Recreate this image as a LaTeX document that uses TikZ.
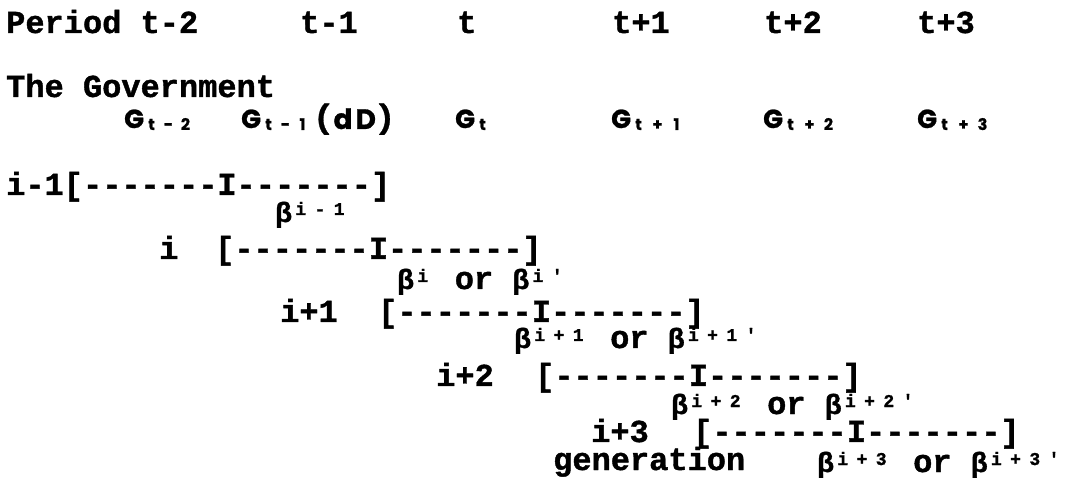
\documentclass[tikz,border=0pt]{standalone}
\usepackage{fontspec}
\setmonofont{Liberation Mono}[BoldFeatures={FakeBold=1.2}]
\newfontfamily\gfont{Poppins}[BoldFeatures={FakeBold=1}]
% beta with its superscript cells; the whole keeps the monospace grid
\newcommand\bsup[1]{\makebox[16pt][l]{\fontsize{28}{28}\selectfont β}#1\hspace{3.2pt}}
% superscript glyphs, each in a monospace cell
\newcommand\supc[1]{\makebox[19.2pt][c]{\raisebox{7pt}{\fontsize{18}{18}\selectfont\addfontfeature{FakeBold=2}#1}}}
% subscript glyphs of the G row
\newcommand\gc[1]{\makebox[17pt][c]{\raisebox{-2pt}{\fontsize{16}{16}\selectfont #1}}}
\tikzset{
  txt/.style={anchor=base west, inner sep=0pt, font=\ttfamily\bfseries\fontsize{32}{32}\selectfont},
  bar/.style={txt, text depth=3pt},
  btxt/.style={txt, text height=17pt},
  gtxt/.style={anchor=base west, inner sep=0pt, font=\gfont\bfseries\fontsize{26}{26}\selectfont},
}
\begin{document}
\begin{tikzpicture}[x=1pt,y=-1pt]
\useasboundingbox (0,0) rectangle (1069,486);
% periods
\node[txt] (p0) at (6,33) {Period t-2};
\node[txt] (p1) at (300,33) {t-1};
\node[txt] (p2) at (457,33) {t};
\node[txt] (p3) at (612,33) {t+1};
\node[txt] (p4) at (764,33) {t+2};
\node[txt] (p5) at (917,33) {t+3};
% government
\node[txt] (gov) at (6,97) {The Government};
\node[gtxt] (g0) at (124,128) {G\hspace{-1pt}\gc{t}\gc{-}\gc{2}};
\node[gtxt] (g1) at (241,128) {G\hspace{-1pt}\gc{t}\gc{-}\gc{1}};
\node[gtxt, font=\gfont\bfseries\fontsize{28}{28}\selectfont] (dd) at (316,129) {(\hspace{4pt}d\hspace{3pt}D\hspace{3pt})};
\node[gtxt] (g2) at (455,128) {G\hspace{-1pt}\gc{t}};
\node[gtxt] (g3) at (611,128) {G\hspace{-1pt}\gc{t}\hspace{2pt}\gc{+}\hspace{2pt}\gc{1}};
\node[gtxt] (g4) at (763,128) {G\hspace{-1pt}\gc{t}\hspace{2pt}\gc{+}\hspace{2pt}\gc{2}};
\node[gtxt] (g5) at (917,128) {G\hspace{-1pt}\gc{t}\hspace{2pt}\gc{+}\hspace{2pt}\gc{3}};
% generations
\node[txt] (l0) at (6,195) {i-1};
\node[bar] (b0) at (63.6,195) {[-------I-------]};
\node[btxt] (s0) at (275,222) {\bsup{\supc{i}\supc{-}\supc{1}}};
\node[txt] (l1) at (159,259) {i};
\node[bar] (b1) at (215,259) {[-------I-------]};
\node[btxt] (s1) at (397,289) {\bsup{\supc{i}} or \bsup{\supc{i}\supc{'}}};
\node[txt] (l2) at (280,322) {i+1};
\node[bar] (b2) at (378,322) {[-------I-------]};
\node[btxt] (s2) at (514,348) {\bsup{\supc{i}\supc{+}\supc{1}} or \bsup{\supc{i}\supc{+}\supc{1}\supc{'}}};
\node[txt] (l3) at (436,386) {i+2};
\node[bar] (b3) at (535,386) {[-------I-------]};
\node[btxt] (s3) at (671,414) {\bsup{\supc{i}\supc{+}\supc{2}} or \bsup{\supc{i}\supc{+}\supc{2}\supc{'}}};
\node[txt] (l4) at (591,442) {i+3};
\node[bar] (b4) at (693,442) {[-------I-------]};
\node[txt] (gen) at (553,470) {generation};
\node[btxt] (s4) at (817,472) {\bsup{\supc{i}\supc{+}\supc{3}} or \bsup{\supc{i}\supc{+}\supc{3}\supc{'}}};
\end{tikzpicture}
\end{document}
